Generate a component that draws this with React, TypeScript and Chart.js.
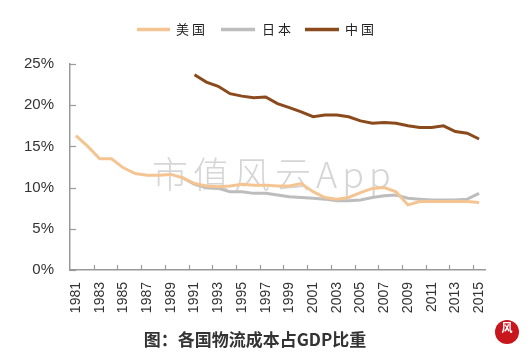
import React, { useEffect, useRef } from 'react';
import { Chart, registerables } from 'chart.js';

Chart.register(...registerables);

const years = [
  '1981', '1982', '1983', '1984', '1985', '1986', '1987', '1988', '1989', '1990',
  '1991', '1992', '1993', '1994', '1995', '1996', '1997', '1998', '1999', '2000',
  '2001', '2002', '2003', '2004', '2005', '2006', '2007', '2008', '2009', '2010',
  '2011', '2012', '2013', '2014', '2015',
];

const usValues = [
  16.3, 15.0, 13.5, 13.5, 12.4, 11.7, 11.5, 11.5, 11.6, 11.2,
  10.5, 10.2, 10.1, 10.2, 10.4, 10.3, 10.3, 10.2, 10.2, 10.5,
  9.5, 8.8, 8.6, 8.8, 9.4, 9.9, 10.0, 9.5, 7.9, 8.3,
  8.3, 8.3, 8.3, 8.3, 8.2,
];

const japanValues = [
  null, null, null, null, null, null, null, null, null, 11.2,
  10.4, 10.0, 9.9, 9.5, 9.5, 9.3, 9.3, 9.1, 8.9, 8.8,
  8.7, 8.6, 8.4, 8.4, 8.5, 8.8, 9.0, 9.1, 8.7, 8.6,
  8.5, 8.5, 8.5, 8.6, 9.3,
];

const chinaValues = [
  null, null, null, null, null, null, null, null, null, null,
  23.7, 22.8, 22.3, 21.4, 21.1, 20.9, 21.0, 20.2, 19.7, 19.2,
  18.6, 18.8, 18.8, 18.6, 18.1, 17.8, 17.9, 17.8, 17.5, 17.3,
  17.3, 17.5, 16.8, 16.6, 15.9,
];

const seriesNames = ['美国', '日本', '中国'];
const seriesColors = ['#F4C592', '#BDBDBD', '#8A4A1C'];
const titleText = '图：各国物流成本占GDP比重';
const watermarkText = '市值风云App';

const decorPlugin = {
  id: 'decor',
  beforeDatasetsDraw(chart: any) {
    const ctx = chart.ctx;
    ctx.save();
    ctx.font = '300 36px "Noto Sans CJK SC", sans-serif';
    ctx.fillStyle = 'rgba(150,150,150,0.4)';
    ctx.textAlign = 'left';
    ctx.textBaseline = 'middle';
    (ctx as any).letterSpacing = '5px';
    ctx.fillText(watermarkText, 152, 174);
    ctx.restore();
  },
  afterDraw(chart: any) {
    const ctx = chart.ctx;
    const xs = chart.scales.x;
    const ys = chart.scales.y;
    const area = chart.chartArea;
    ctx.save();
    // inward tick marks
    ctx.strokeStyle = '#9a9a9a';
    ctx.lineWidth = 1.2;
    const half = (xs.getPixelForValue(1) - xs.getPixelForValue(0)) / 2;
    for (let i = 0; i < years.length; i += 2) {
      const px = Math.round(xs.getPixelForValue(i) - half) + 0.5;
      if (px <= area.left + 1) continue;
      ctx.beginPath();
      ctx.moveTo(px, area.bottom);
      ctx.lineTo(px, area.bottom - 5);
      ctx.stroke();
    }
    ys.ticks.forEach((t: any) => {
      const py = Math.round(ys.getPixelForValue(t.value)) + 0.5;
      ctx.beginPath();
      ctx.moveTo(area.left, py);
      ctx.lineTo(area.left + 6, py);
      ctx.stroke();
    });

    // legend
    const legendPos = [
      [137, 170, 176],
      [221, 255, 262],
      [305, 339, 345],
    ];
    ctx.textBaseline = 'middle';
    ctx.textAlign = 'left';
    ctx.font = '13px "Noto Sans CJK SC", serif';
    (ctx as any).letterSpacing = '3px';
    seriesNames.forEach((name, i) => {
      const [a, b, tx] = legendPos[i];
      ctx.strokeStyle = seriesColors[i];
      ctx.lineWidth = 3.5;
      ctx.beginPath();
      ctx.moveTo(a, 29.5);
      ctx.lineTo(b, 29.5);
      ctx.stroke();
      ctx.fillStyle = '#222';
      ctx.fillText(name, tx, 29);
    });
    (ctx as any).letterSpacing = '0px';

    // caption
    ctx.font = 'bold 17px "Noto Sans CJK SC", sans-serif';
    ctx.fillStyle = '#333';
    ctx.textAlign = 'center';
    ctx.fillText(titleText, 255, 340);

    // logo
    ctx.beginPath();
    ctx.fillStyle = '#C8161D';
    ctx.arc(507, 332, 12, 0, Math.PI * 2);
    ctx.fill();
    ctx.fillStyle = '#fff';
    ctx.font = 'bold 11px "Noto Sans CJK SC", sans-serif';
    ctx.fillText('风', 507, 328);
    ctx.restore();
  },
};

export default function App() {
  const ref = useRef<HTMLCanvasElement | null>(null);

  useEffect(() => {
    if (!ref.current) return;
    const chart = new Chart(ref.current, {
      type: 'line',
      data: {
        labels: years,
        datasets: [
          { label: seriesNames[0], data: usValues, borderColor: seriesColors[0], borderWidth: 3, pointRadius: 0, tension: 0 },
          { label: seriesNames[1], data: japanValues, borderColor: seriesColors[1], borderWidth: 3, pointRadius: 0, tension: 0 },
          { label: seriesNames[2], data: chinaValues, borderColor: seriesColors[2], borderWidth: 3, pointRadius: 0, tension: 0 },
        ],
      },
      options: {
        responsive: false,
        animation: false,
        layout: { padding: { top: 64, right: 46, bottom: 0, left: 0 } },
        plugins: { legend: { display: false }, title: { display: false }, tooltip: { enabled: false } },
        scales: {
          x: {
            type: 'category',
            offset: true,
            grid: { display: false, drawTicks: false },
            border: { display: true, color: '#9a9a9a', width: 1.5 },
            ticks: {
              autoSkip: false,
              minRotation: 90,
              maxRotation: 90,
              padding: 12,
              color: '#333',
              font: { family: '"Liberation Sans", Arial, sans-serif', size: 14 },
              callback: (_v: any, i: number) => (i % 2 === 0 ? years[i] : null),
            },
            afterFit: (s: any) => { s.height = 84; },
          },
          y: {
            min: 0,
            max: 25,
            grid: { display: false, drawTicks: false },
            border: { display: true, color: '#9a9a9a', width: 1.5 },
            ticks: {
              stepSize: 5,
              padding: 16,
              color: '#333',
              font: { family: '"Liberation Sans", Arial, sans-serif', size: 15 },
              callback: (v: any) => v + '%',
            },
            afterFit: (s: any) => { s.width = 70; },
          },
        },
      },
      plugins: [decorPlugin],
    });
    return () => chart.destroy();
  }, []);

  return (
    <div style={{ position: 'fixed', left: 0, top: 0, width: 531, height: 354, background: '#fff' }}>
      <canvas ref={ref} width={531} height={354} />
    </div>
  );
}
